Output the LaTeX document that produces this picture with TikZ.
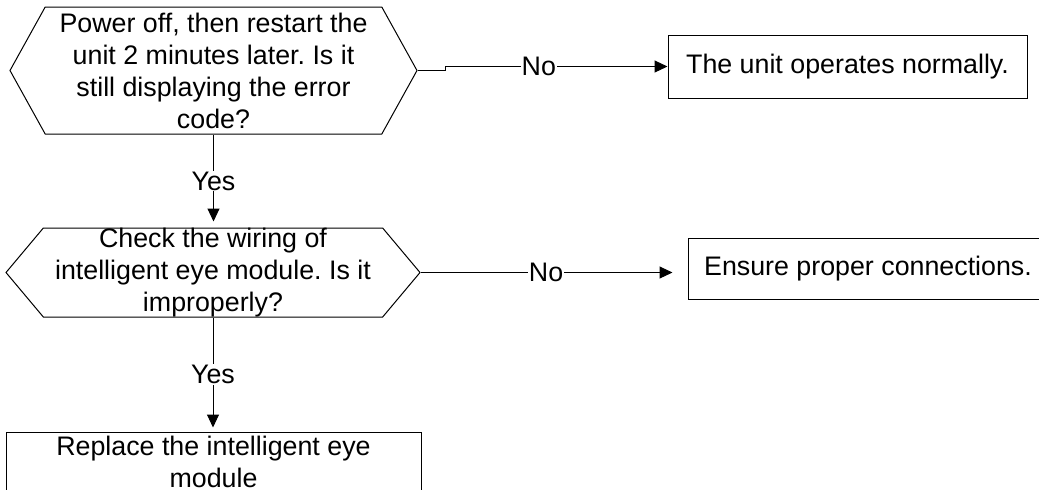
\documentclass[tikz,border=0pt]{standalone}
\usepackage{fontspec}
\setmainfont{Liberation Sans}
\frenchspacing
\usetikzlibrary{shapes.symbols,arrows.meta}
\tikzset{decision/.style={draw, signal, signal to=west and east, inner sep=0pt},
  result/.style={draw, rectangle, align=center, inner sep=0pt},
  arr/.style={-{Triangle[length=6.5pt,width=6pt]}},
  answer/.style={fill=white, inner sep=0.5pt}}

\begin{document}
\begin{tikzpicture}[x=0.5pt,y=-0.5pt,line width=0.5pt,font=\fontsize{13.4}{16}\selectfont]
  \useasboundingbox (0,0) rectangle (1039,489);
  \node[decision, signal pointer angle=122, minimum width=203.5pt, minimum height=63.5pt,
    label={[align=center]center:{Power off, then restart the\\unit 2 minutes later. Is it\\still displaying the error\\code?}}] (H1) at (213.5,70.5) {};
  \node[result, minimum width=179.5pt, minimum height=31.5pt] (N1) at (847.5,66.5) {The unit operates normally.};
  \node[decision, signal pointer angle=100, minimum width=207pt, minimum height=44.5pt,
    label={[align=center]center:{Check the wiring of\\intelligent eye module. Is it\\improperly?}}] (H2) at (213,272.5) {};
  \node[result, minimum width=180pt, minimum height=30.5pt] (N2) at (868,268.5) {Ensure proper connections.};
  \node[result, minimum width=207.5pt, minimum height=29.5pt] (R) at (213.5,461.5) {Replace the intelligent eye\\module};
  \draw[arr] (H1.east) -- ++(28,0) |- node[answer, pos=0.71] {No} (N1.west);
  \draw[arr, shorten >=7.5pt] (H2.east) -- node[answer, pos=0.47] {No} (H2.east -| N2.west);
  \draw[arr, shorten >=3pt] (H1.south) -- node[answer] {Yes} (H1.south |- H2.north);
  \draw[arr, shorten >=2pt] (H2.south) -- node[answer] {Yes} (H2.south |- R.north);
\end{tikzpicture}
\end{document}
